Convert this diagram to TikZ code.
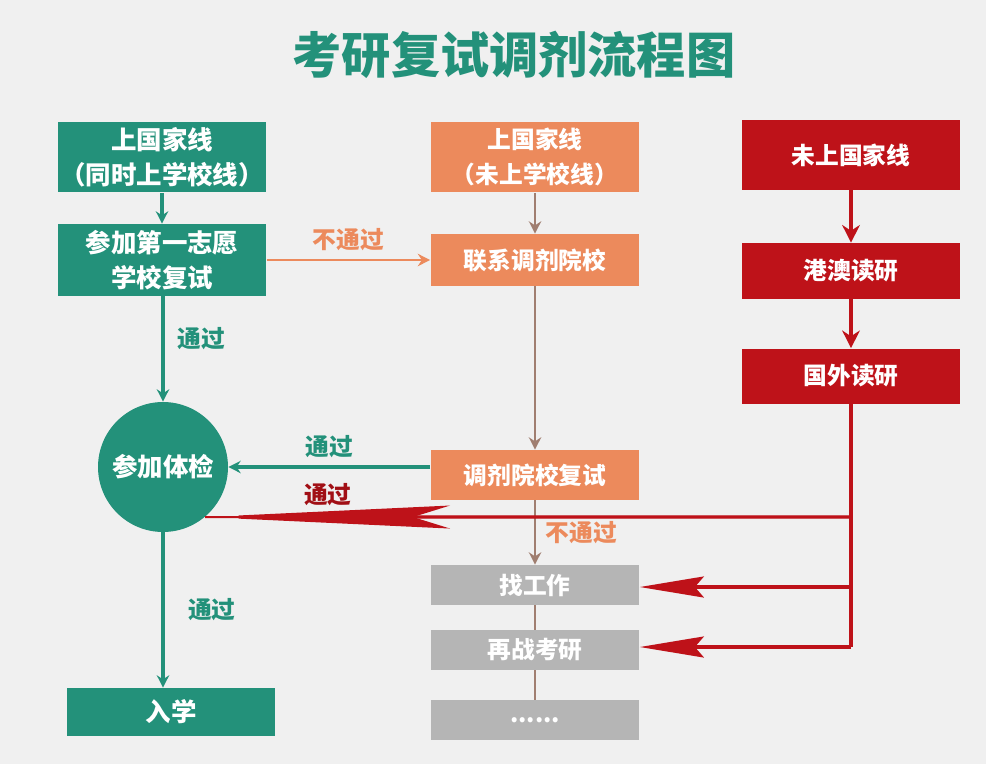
\documentclass[tikz,border=0pt]{standalone}
\usepackage{fontspec}
\setmainfont{Noto Sans CJK SC}
\usetikzlibrary{arrows.meta}

\definecolor{kgreen}{HTML}{23917A}
\definecolor{korange}{HTML}{EC8A5C}
\definecolor{kbrown}{HTML}{A07E70}
\definecolor{kred}{HTML}{BE1219}
\definecolor{kgray}{HTML}{B5B5B5}
\definecolor{kbg}{HTML}{F0F0F0}

\tikzset{
  box/.style={minimum width=4.18cm, inner sep=0pt, align=center, text=white,
    font=\bfseries\fontsize{13.5}{20}\selectfont},
  greenbox/.style={box, fill=kgreen, font=\bfseries\fontsize{14.5}{20}\selectfont},
  orangebox/.style={box, fill=korange},
  redbox/.style={box, fill=kred, minimum width=4.36cm},
  graybox/.style={box, fill=kgray, minimum height=0.8cm},
  lbl/.style={font=\bfseries\fontsize{13.5}{16}\selectfont},
  garrow/.style={draw=kgreen, line width=1.8pt, -{Stealth[length=7pt, width=7pt]}},
  oarrow/.style={draw=kbrown, line width=1.4pt, -{Stealth[length=7pt, width=7pt]}},
  rline/.style={draw=kred, line width=1.8pt},
  rarrow/.style={rline, -{Stealth[length=1.28cm, width=0.42cm, inset=0.18cm]}},
}

\begin{document}
\begin{tikzpicture}[x=0.02cm, y=-0.02cm]

\useasboundingbox (0,0) rectangle (986,764);
\fill[kbg] (0,0) rectangle (986,764);

\node[text=kgreen, font=\bfseries\fontsize{28}{32}\selectfont] (title) at (514,55) {考研复试调剂流程图};

% left column
\node[greenbox, minimum height=1.42cm] (line) at (162,157) {上国家线\\（同时上学校线）};
\node[greenbox, minimum height=1.44cm] (first) at (162,260) {参加第一志愿\\学校复试};
\node[circle, fill=kgreen, minimum size=2.6cm, inner sep=0pt, text=white,
  font=\bfseries\fontsize{14.5}{16}\selectfont] (exam) at (163,467) {参加体检};
\node[greenbox, minimum height=0.96cm] (enroll) at (171,712) {入学};

% middle column
\node[orangebox, minimum height=1.42cm] (lineb) at (535,157) {上国家线\\（未上学校线）};
\node[orangebox, minimum height=1.04cm] (contact) at (535,260) {联系调剂院校};
\node[orangebox, minimum height=1.0cm] (adjust) at (535,475) {调剂院校复试};
\node[graybox] (job) at (535,585) {找工作};
\node[graybox] (retry) at (535,650) {再战考研};
\node[graybox] (more) at (535,720) {......};

% right column
\node[redbox, minimum height=1.4cm] (noline) at (851,155) {未上国家线};
\node[redbox, minimum height=1.12cm] (hkmo) at (851,271) {港澳读研};
\node[redbox, minimum height=1.1cm] (abroad) at (851,376) {国外读研};

\coordinate (r1) at (851,517);
\coordinate (r2) at (851,587);
\coordinate (r3) at (851,647);

% green arrows
\draw[garrow] (line) -- (first);
\draw[garrow] (first.south -| exam.north) -- (exam.north) node[lbl, text=kgreen, right=4pt, pos=0.4] {通过};
\draw[garrow] (exam.south) -- (exam.south |- enroll.north) node[lbl, text=kgreen, right=10pt, midway] {通过};
\draw[garrow] (adjust.west |- exam.east) -- (exam.east) node[lbl, text=kgreen, above=1pt, midway] {通过};

% orange arrows
\draw[oarrow, draw=korange] (first.east) -- (contact.west) node[lbl, text=korange, above=1pt, midway] {不通过};
\draw[oarrow] (lineb) -- (contact);
\draw[oarrow] (contact) -- (adjust);
\draw[oarrow] (adjust) -- (job) node[lbl, text=korange, right=2pt, midway] {不通过};
\draw[draw=kbrown, line width=1.4pt] (job) -- (retry);
\draw[draw=kbrown, line width=1.4pt] (retry) -- (more);

% red arrows
\draw[rline, -{Stealth[length=10pt, width=10pt]}] (noline) -- (hkmo);
\draw[rline, -{Stealth[length=10pt, width=10pt]}] (hkmo) -- (abroad);
\draw[rline] (abroad.south) -- (r3);
\draw[rline, line width=1.2pt] (r1) -- (exam.-50);
\draw[rarrow, -{Stealth[length=4.9cm, width=0.46cm, inset=0.74cm]}] (r1) -- (exam.-50) node[lbl, text=kred!85!black, above=2pt, pos=0.81] {通过};
\draw[rarrow] (r2) -- (job.east |- r2);
\draw[rarrow] (r3) -- (retry.east |- r3);

\end{tikzpicture}
\end{document}
